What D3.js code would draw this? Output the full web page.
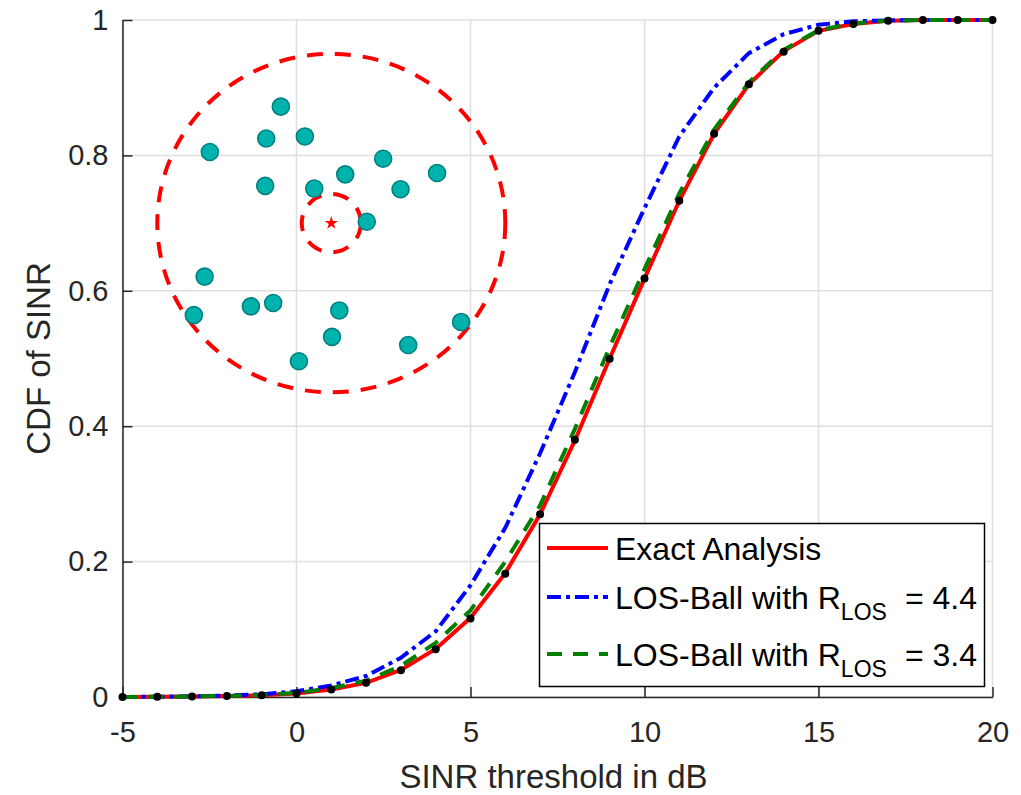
<!DOCTYPE html>
<html>
<head>
<meta charset="utf-8">
<script src="https://cdn.jsdelivr.net/npm/d3@7/dist/d3.min.js"></script>
<style>
    body { margin: 0; background: #fff; }
    svg { display: block; font-family: "Liberation Sans", Arial, Helvetica, sans-serif; }
</style>
</head>
<body>
<svg id="chart" width="1021" height="795"></svg>
<script>
    // SINR thresholds (dB)
    const sinrDb = [-5, -4, -3, -2, -1, 0, 1, 2, 3, 4, 5, 6, 7, 8, 9, 10, 11, 12, 13, 14, 15, 16, 17, 18, 19, 20];
    // exact analysis (red, solid)
    const exactCdf = [0, 0.0003, 0.0007, 0.0013, 0.0025, 0.005, 0.011, 0.021, 0.04, 0.071, 0.117, 0.183, 0.27, 0.379, 0.5, 0.618, 0.733, 0.832, 0.905, 0.954, 0.984, 0.994, 0.999, 1, 1, 1];
    // LOS ball R = 4.4 (blue, dash-dot)
    const ball44Cdf = [0, 0.0004, 0.001, 0.002, 0.004, 0.0085, 0.017, 0.031, 0.058, 0.097, 0.165, 0.25, 0.36, 0.48, 0.61, 0.722, 0.828, 0.9, 0.951, 0.979, 0.993, 0.998, 0.9995, 1, 1, 1];
    // LOS ball R = 3.4 (green, dashed)
    const ball34Cdf = [0, 0.0003, 0.0008, 0.0016, 0.003, 0.006, 0.013, 0.024, 0.046, 0.08, 0.128, 0.2, 0.283, 0.396, 0.517, 0.632, 0.744, 0.838, 0.908, 0.956, 0.985, 0.995, 0.999, 1, 1, 1];
    // simulation points (black dots)
    const simCdf = [0, 0.0002, 0.0006, 0.0014, 0.0026, 0.0052, 0.011, 0.021, 0.0395, 0.0705, 0.116, 0.182, 0.27, 0.38, 0.4997, 0.618, 0.733, 0.832, 0.905, 0.953, 0.984, 0.994, 0.999, 1, 1, 1];

    // inset: node positions, drawn in the same data space
    const nodeX = [-0.45, -0.87, 0.24, -2.49, 2.49, 4.04, 1.40, -0.9, 0.51, 2.99, 2.02, -2.64, -1.31, -0.67, -2.95, 1.23, 4.73, 1.02, 3.21, 0.07];
    const nodeY = [0.872, 0.825, 0.828, 0.805, 0.795, 0.774, 0.772, 0.755, 0.751, 0.750, 0.702, 0.621, 0.577, 0.582, 0.564, 0.571, 0.554, 0.532, 0.520, 0.496];
    const insetCenter = [1, 0.7];
    const outerRadius = [5, 0.25];
    const innerRadius = [0.85, 0.043];

    const xTicks = [-5, 0, 5, 10, 15, 20];
    const yTicks = [0, 0.2, 0.4, 0.6, 0.8, 1];

    const legendItems = [
        { label: 'Exact Analysis', sub: null, tail: null, color: '#ff0000', dash: null },
        { label: 'LOS-Ball with R', sub: 'LOS', tail: '= 4.4', color: '#0000ff', dash: '14,5,4,5' },
        { label: 'LOS-Ball with R', sub: 'LOS', tail: '= 3.4', color: '#007f00', dash: '15,11' }
    ];

    const svg = d3.select('#chart');
    const x = d3.scaleLinear().domain([-5, 20]).range([122.5, 992.5]);
    const y = d3.scaleLinear().domain([0, 1]).range([697, 20]);
    const axisColor = '#262626';

    // grid
    const grid = svg.append('g').attr('stroke', '#dfdfdf').attr('stroke-width', 1.5);
    grid.selectAll('.gx').data(xTicks).enter().append('line')
        .attr('x1', d => x(d)).attr('x2', d => x(d))
        .attr('y1', y(0)).attr('y2', y(1));
    grid.selectAll('.gy').data(yTicks).enter().append('line')
        .attr('x1', x(-5)).attr('x2', x(20))
        .attr('y1', d => y(d)).attr('y2', d => y(d));

    // axes
    const xAxis = svg.append('g')
        .attr('transform', `translate(0,${y(0)})`)
        .call(d3.axisBottom(x).tickValues(xTicks).tickFormat(d => String(d))
            .tickSizeInner(-10).tickSizeOuter(0).tickPadding(24));
    const yAxis = svg.append('g')
        .attr('transform', `translate(${x(-5)},0)`)
        .call(d3.axisLeft(y).tickValues(yTicks).tickFormat(d => String(d))
            .tickSizeInner(-10).tickSizeOuter(0).tickPadding(14));
    [xAxis, yAxis].forEach(a => {
        a.attr('font-family', null).attr('font-size', null);
        a.select('.domain').attr('stroke', axisColor).attr('stroke-width', 1.5);
        a.selectAll('.tick line').attr('stroke', axisColor).attr('stroke-width', 1.5);
        a.selectAll('.tick text').attr('fill', axisColor).style('font-size', '29px');
    });

    svg.append('text')
        .attr('x', (x(-5) + x(20)) / 2 - 4).attr('y', 788)
        .attr('text-anchor', 'middle').attr('fill', axisColor)
        .style('font-size', '33px')
        .text('SINR threshold in dB');
    svg.append('text')
        .attr('transform', `translate(50,${(y(0) + y(1)) / 2}) rotate(-90)`)
        .attr('text-anchor', 'middle').attr('fill', axisColor)
        .style('font-size', '33px')
        .text('CDF of SINR');

    // inset picture
    const inset = svg.append('g');
    [outerRadius, innerRadius].forEach(r => {
        inset.append('ellipse')
            .attr('cx', x(insetCenter[0])).attr('cy', y(insetCenter[1]))
            .attr('rx', x(insetCenter[0] + r[0]) - x(insetCenter[0]))
            .attr('ry', y(insetCenter[1]) - y(insetCenter[1] + r[1]))
            .attr('fill', 'none').attr('stroke', '#ff0000')
            .attr('stroke-width', 4).attr('stroke-dasharray', '16,12');
    });
    inset.selectAll('circle.node')
        .data(nodeX.map((v, i) => [v, nodeY[i]]))
        .enter().append('circle')
        .attr('class', 'node')
        .attr('cx', d => x(d[0])).attr('cy', d => y(d[1]))
        .attr('r', 8.5)
        .attr('fill', '#00b2ac').attr('stroke', '#008080').attr('stroke-width', 1.6);
    inset.append('path')
        .attr('transform', `translate(${x(insetCenter[0])},${y(insetCenter[1])})`)
        .attr('d', d3.symbol(d3.symbolStar, 55)())
        .attr('fill', '#ff0000');

    // curves
    const line = d3.line().x((d, i) => x(sinrDb[i])).y(d => y(d));
    const series = [
        { values: exactCdf, color: '#ff0000', dash: null },
        { values: ball44Cdf, color: '#0000ff', dash: '14,5,4,5' },
        { values: ball34Cdf, color: '#007f00', dash: '15,11' }
    ];
    series.forEach(s => {
        svg.append('path')
            .attr('d', line(s.values))
            .attr('fill', 'none')
            .attr('stroke', s.color)
            .attr('stroke-width', 4)
            .attr('stroke-dasharray', s.dash);
    });
    svg.selectAll('circle.sim')
        .data(simCdf)
        .enter().append('circle')
        .attr('class', 'sim')
        .attr('cx', (d, i) => x(sinrDb[i])).attr('cy', d => y(d))
        .attr('r', 4).attr('fill', '#000');

    // legend
    const legend = svg.append('g');
    legend.append('rect')
        .attr('x', 539.5).attr('y', 523.5).attr('width', 445).attr('height', 163)
        .attr('fill', '#fff').attr('stroke', '#000').attr('stroke-width', 1.5);
    const rowLineY = [548, 597, 654];
    const rowTextY = [560, 609, 666];
    legendItems.forEach((item, i) => {
        legend.append('line')
            .attr('x1', 547).attr('x2', 608)
            .attr('y1', rowLineY[i]).attr('y2', rowLineY[i])
            .attr('stroke', item.color).attr('stroke-width', 4)
            .attr('stroke-dasharray', item.dash);
        const t = legend.append('text')
            .attr('x', 615).attr('y', rowTextY[i])
            .style('font-size', '32px').attr('fill', '#000');
        t.append('tspan').text(item.label);
        if (item.sub) {
            t.append('tspan').attr('dy', 11).style('font-size', '23px').text(item.sub);
            t.append('tspan').attr('dy', -11).attr('dx', 18).text(item.tail);
        }
    });
</script>
</body>
</html>
